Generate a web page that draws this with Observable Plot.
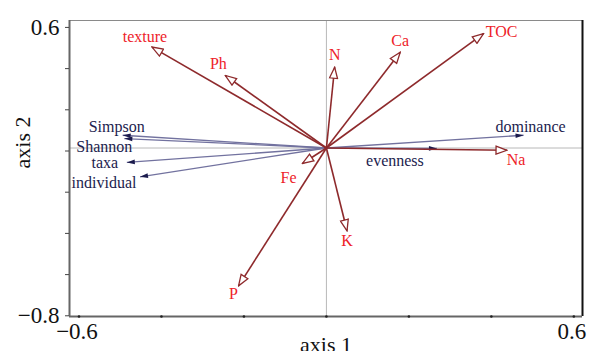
<!DOCTYPE html>
<html><head><meta charset="utf-8">
<script src="https://cdn.jsdelivr.net/npm/d3@7"></script>
<script src="https://cdn.jsdelivr.net/npm/@observablehq/plot@0.6"></script>
<style>
body{margin:0;background:#fff}
#chart svg{display:block}
#chart svg, #chart svg text{font-family:"Liberation Serif","DejaVu Serif",serif !important}
</style>
</head><body><div id="chart"></div>
<script>
// Environmental variables (red arrows)
const envVars  = ["texture","Ph","N","Ca","TOC","Na","K","P","Fe"];
const envAxis1 = [-0.423,-0.245,0.020,0.179,0.381,0.438,0.050,-0.213,-0.058];
const envAxis2 = [0.490,0.352,0.392,0.465,0.555,-0.011,-0.402,-0.669,-0.075];
// Diversity indices (blue arrows)
const divVars  = ["Simpson","Shannon","taxa","individual","dominance","evenness"];
const divAxis1 = [-0.494,-0.490,-0.484,-0.452,0.478,0.268];
const divAxis2 = [0.062,0.046,-0.070,-0.140,0.062,-0.002];
// Ticks
const xTicks = [-0.6,-0.4,-0.2,0,0.2,0.4,0.6];
const yTicks = [-0.8,-0.6,-0.4,-0.2,0,0.2,0.4,0.6];
const xLabelTicks = [-0.6,0.6];
const yLabelTicks = [-0.8,0.6];
const xDomain = [-0.623,0.621];
const yDomain = [-0.818,0.619];

// label layout offsets (px)
const envDx = [-7,-7,0,0,18,9,0,-5,-14];
const envDy = [-10,-12,-12,-11,-2,10,10,8,14];
const divDx = [-6,-20,-22,-36,7,-42];
const divDy = [-8,8,0,6,-8,12];

const env = envVars.map((name,i)=>({name,a1:envAxis1[i],a2:envAxis2[i],dx:envDx[i],dy:envDy[i]}));
const div = divVars.map((name,i)=>({name,a1:divAxis1[i],a2:divAxis2[i],dx:divDx[i],dy:divDy[i]}));

const RED_LINE = "#8e2a2c", RED_TEXT = "#ee2229", BLUE_LINE = "#72729f", BLUE_HEAD = "#1b1b4d", BLUE_TEXT = "#1c1c4e";
const FONT = "'Liberation Serif','DejaVu Serif',serif";
const fmt = d => (d < 0 ? "\u2212" : "") + Math.abs(d).toFixed(1);

const labelMarks = (data, fill) => data.map(d => Plot.text([d], {
  x: "a1", y: "a2", text: "name", dx: d.dx, dy: d.dy, fill, fontSize: 16, textAnchor: "middle", fontFamily: FONT
}));

const plot = Plot.plot({
  width: 589, height: 351,
  marginLeft: 69, marginRight: 7, marginTop: 20, marginBottom: 35,
  x: {domain: xDomain, axis: null, label: null},
  y: {domain: yDomain, axis: null, label: null},
  style: {fontFamily: FONT, background: "#fff", overflow: "visible"},
  marks: [
    Plot.ruleX([0], {stroke: "#b8b8b8", strokeWidth: 1}),
    Plot.ruleY([0], {stroke: "#b8b8b8", strokeWidth: 1}),
    Plot.ruleY([yDomain[1]], {stroke: "#8a8a8a", strokeWidth: 1}),
    Plot.ruleX([xDomain[1]], {stroke: "#111", strokeWidth: 2}),
    Plot.ruleX([xDomain[0]], {stroke: "#666", strokeWidth: 2}),
    Plot.ruleY([yDomain[0]], {stroke: "#666", strokeWidth: 2}),
    Plot.axisY({ticks: yTicks, label: null, tickSize: 4, tickPadding: 6, tickFormat: d => yLabelTicks.includes(d) ? fmt(d) : "", fontSize: 23, fontFamily: FONT, stroke: "#444", fill: "#111", dy: 3}),
    Plot.axisX({ticks: xLabelTicks, label: null, tickSize: 0, tickPadding: 6, tickFormat: fmt, fontSize: 23, fontFamily: FONT, fill: "#111", dx: -2}),
    Plot.dot(xTicks, {x: d => d, y: () => yDomain[0], r: 1.3, fill: "#222"}),
    Plot.text(["axis 1"], {frameAnchor: "bottom", dy: 35, fontSize: 22, fontFamily: FONT, fill: "#111"}),
    Plot.text(["axis 2"], {frameAnchor: "left", dx: -47, rotate: -90, fontSize: 22, fontFamily: FONT, fill: "#111"}),
    Plot.link(div, {x1: () => 0, y1: () => 0, x2: "a1", y2: "a2", stroke: BLUE_LINE, strokeWidth: 1.3}),
    Plot.link(env, {x1: () => 0, y1: () => 0, x2: "a1", y2: "a2", stroke: RED_LINE, strokeWidth: 1.6}),
    ...labelMarks(env, RED_TEXT),
    ...labelMarks(div, BLUE_TEXT)
  ]
});

// arrowhead markers attached to the link paths
const svg = d3.select(plot);
const defs = svg.insert("defs", ":first-child");
defs.append("marker").attr("id", "openTri").attr("viewBox", "-1 -5 13 10")
  .attr("refX", 11).attr("refY", 0).attr("markerWidth", 13).attr("markerHeight", 10)
  .attr("markerUnits", "userSpaceOnUse").attr("orient", "auto")
  .append("path").attr("d", "M0,-4L11,0L0,4Z").attr("fill", "#fff").attr("stroke", RED_LINE).attr("stroke-width", 1.3);
defs.append("marker").attr("id", "fillTri").attr("viewBox", "-1 -4 10 8")
  .attr("refX", 8).attr("refY", 0).attr("markerWidth", 10).attr("markerHeight", 8)
  .attr("markerUnits", "userSpaceOnUse").attr("orient", "auto")
  .append("path").attr("d", "M0,-2.3L8,0L0,2.3Z").attr("fill", BLUE_HEAD);
const links = svg.selectAll("g[aria-label='link']").nodes();
d3.select(links[0]).selectAll("path").attr("marker-end", "url(#fillTri)");
d3.select(links[1]).selectAll("path").attr("marker-end", "url(#openTri)");

document.getElementById("chart").appendChild(plot);
</script>
</body></html>
